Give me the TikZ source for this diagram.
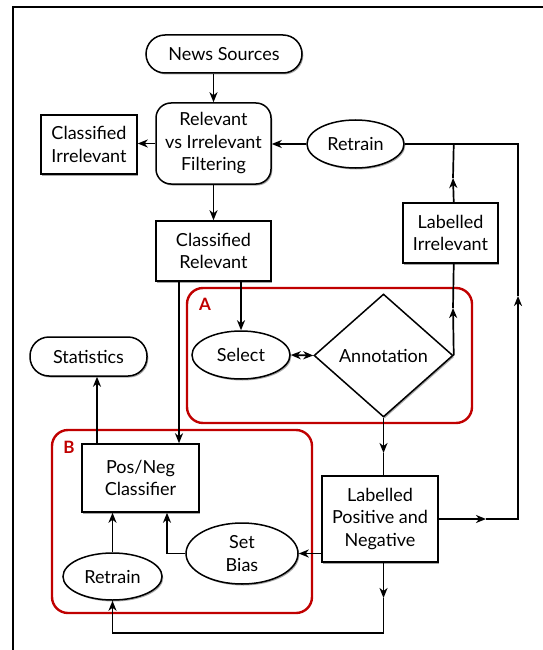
\documentclass[tikz,border=0pt]{standalone}
\usepackage{fontspec}
\setmainfont{Lato}
\usetikzlibrary{shapes.geometric,arrows.meta,shadows}
\definecolor{boxred}{RGB}{192,0,0}
\begin{document}
\begin{tikzpicture}[x=1pt,y=-1pt,
  base/.style={draw=black, line width=1.5pt, fill=white, align=center,
    font=\fontsize{18}{22.5}\selectfont, inner sep=0pt,
    drop shadow={shadow xshift=1.3pt, shadow yshift=-1.5pt, opacity=0.35, fill=black}},
  boxnode/.style={base, rectangle},
  pill/.style={base, rectangle, rounded corners=19pt},
  roundbox/.style={base, rectangle, rounded corners=15pt},
  ellnode/.style={base, ellipse},
  diam/.style={base, diamond},
  tip/.tip={Stealth[length=10pt,width=8pt,inset=3pt]},
  conn/.style={line width=1.7pt, -tip},
  plainline/.style={line width=1.7pt},
  groupbox/.style={draw=boxred, line width=2.4pt, rounded corners=16pt, rectangle},
  grouplabel/.style={text=boxred, font=\bfseries\fontsize{17}{17}\selectfont, inner sep=0pt}
]
\useasboundingbox (0,0) rectangle (542,650);
% frame
\coordinate (frBL) at (13,651);
\coordinate (frTL) at (13,7);
\coordinate (frTR) at (543,7);
\draw[line width=2.4pt] (frBL) -- (frTL) -- (frTR);

% group boxes
\node[groupbox, minimum width=285pt, minimum height=135pt] (grpA) at (329.5,355.5) {};
\node[groupbox, minimum width=260pt, minimum height=183pt] (grpB) at (182,521.5) {};
\node[grouplabel] (labA) at (205,304) {A};
\node[grouplabel] (labB) at (69,447) {B};

% nodes
\node[pill, minimum width=156pt, minimum height=38pt] (news) at (224,54) {News Sources};
\node[roundbox, minimum width=115pt, minimum height=81pt] (filter) at (213.5,143.5) {Relevant\\vs Irrelevant\\Filtering};
\node[boxnode, minimum width=96pt, minimum height=59pt] (clsirr) at (89,144.5) {Classified\\Irrelevant};
\node[boxnode, minimum width=115pt, minimum height=60pt] (clsrel) at (213.5,251) {Classified\\Relevant};
\node[ellnode, minimum width=97pt, minimum height=48pt] (retrainA) at (355.5,144) {Retrain};
\node[boxnode, minimum width=95pt, minimum height=60pt] (labirr) at (450.5,233) {Labelled\\Irrelevant};
\node[diam, minimum width=139pt, minimum height=123pt] (annot) at (383.5,355.5) {Annotation};
\node[ellnode, minimum width=98pt, minimum height=48pt] (select) at (241,355) {Select};
\node[pill, minimum width=117pt, minimum height=39pt] (stats) at (88.5,356.5) {Statistics};
\node[boxnode, minimum width=117pt, minimum height=68pt] (posneg) at (140.5,478) {Pos/Neg\\Classifier};
\node[ellnode, minimum width=112pt, minimum height=61pt] (setbias) at (242,553.5) {Set\\Bias};
\node[ellnode, minimum width=99pt, minimum height=47pt] (retrainB) at (112.5,576.5) {Retrain};
\node[boxnode, minimum width=116pt, minimum height=86pt] (lpn) at (380,519) {Labelled\\Positive and\\Negative};

% helper coordinates
\coordinate (rc1) at (518,519);
\coordinate (rc2) at (518,144);
\coordinate (m1) at (486,519);
\coordinate (m2) at (518,296);
\coordinate (m3) at (453,308);
\coordinate (m4) at (453,178);
\coordinate (m5) at (383.5,453);
\coordinate (m6) at (383.5,598);
\coordinate (bl1) at (383.5,633);
\coordinate (relL) at (179,0);
\coordinate (statX) at (97,0);
\coordinate (sbX) at (167,0);

% connectors
\draw[conn] (news.south -| filter.north) -- (filter.north);
\draw[conn] (filter.west) -- (filter.west -| clsirr.east);
\draw[conn] (filter.south) -- (clsrel.north);
\draw[conn] (retrainA.west) -- (retrainA.west -| filter.east);
\draw[conn] (lpn.east) -- (m1);
\draw[conn] (m1) -- (rc1) -- (m2);
\draw[plainline] (m2) -- (rc2) -- (retrainA.east);
\draw[conn] (annot.east) -- (m3);
\draw[plainline] (m3) -- (annot.east |- labirr.south);
\draw[conn] (annot.east |- labirr.north) -- (m4);
\draw[plainline] (m4) -- (annot.east |- rc2);
\draw[conn] (select.north |- clsrel.south) -- (select.north);
\draw[conn] (relL |- clsrel.south) -- (relL |- posneg.north);
\draw[line width=1.7pt, tip-tip] (select.east) -- (annot.west);
\draw[conn] (statX |- posneg.north) -- (statX |- stats.south);
\draw[conn] (annot.south) -- (m5);
\draw[plainline] (m5) -- (annot.south |- lpn.north);
\draw[conn] (lpn.west |- setbias.east) -- (setbias.east);
\draw[conn] (setbias.west) -- (sbX |- setbias.west) -- (sbX |- posneg.south);
\draw[conn] (retrainB.north) -- (retrainB.north |- posneg.south);
\draw[conn] (annot.south |- lpn.south) -- (m6);
\draw[conn] (m6) -- (bl1) -- (retrainB.south |- bl1) -- (retrainB.south);
\end{tikzpicture}
\end{document}
